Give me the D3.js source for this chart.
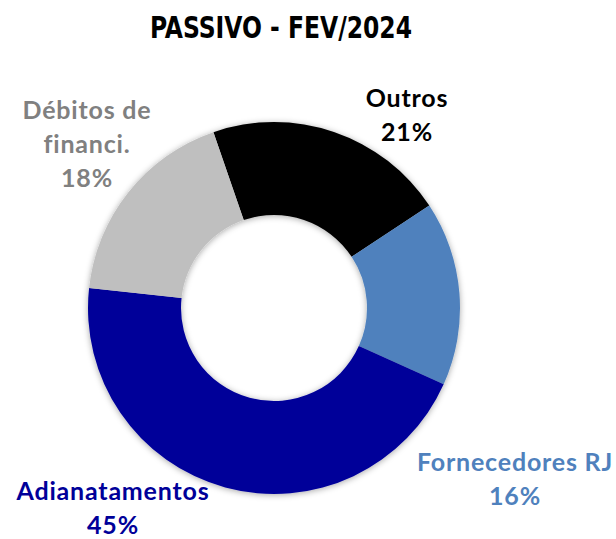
<!DOCTYPE html>
<html>
<head>
<meta charset="utf-8">
<script src="https://cdn.jsdelivr.net/npm/d3@7"></script>
<style>
  body { margin: 0; background: #fff; }
  svg { display: block; }
</style>
</head>
<body>
<svg width="616" height="539"></svg>
<script>
var title = "PASSIVO - FEV/2024"
var categories = ["Outros", "Fornecedores RJ", "Adianatamentos", "Débitos de financi."]
var values = [21, 16, 45, 18]
var colors = ["#000000", "#4f81bd", "#000099", "#bfbfbf"]
var labelColors = ["#000000", "#4f81bd", "#000099", "#808080"]
// label text lines (category split the way the chart wraps it)
var labelLines = [["Outros"], ["Fornecedores RJ"], ["Adianatamentos"], ["Débitos de", "financi."]]

var svg = d3.select("svg"),
	width = +svg.attr("width"),
	height = +svg.attr("height")

var cx = 274, cy = 308,
	outer = 186, inner = 93

// where each label block sits (center x, first baseline)
var labelAnchor = [[407, 107], [515, 471], [113, 500], [87, 119]]
var lineGap = 34

var defs = svg.append("defs")
var f = defs.append("filter").attr("id", "shadow")
	.attr("x", "-20%").attr("y", "-20%").attr("width", "140%").attr("height", "140%")
f.append("feDropShadow").attr("dx", 0).attr("dy", 1).attr("stdDeviation", 3)
	.attr("flood-color", "#000").attr("flood-opacity", 0.35)

svg.append("text")
	.attr("x", 281).attr("y", 38)
	.attr("text-anchor", "middle")
	.style("font-family", "'DejaVu Sans Condensed', 'DejaVu Sans', sans-serif")
	.style("font-stretch", "condensed")
	.style("font-weight", "bold")
	.style("font-size", "30px")
	.attr("textLength", 262).attr("lengthAdjust", "spacingAndGlyphs")
	.text(title)

var pie = d3.pie().sort(null).value(d => d)
	.startAngle(-19 * Math.PI / 180)
	.endAngle(-19 * Math.PI / 180 + 2 * Math.PI)

var arc = d3.arc().innerRadius(inner).outerRadius(outer)

var g = svg.append("g")
	.attr("transform", "translate(" + cx + "," + cy + ")")
	.attr("filter", "url(#shadow)")

g.selectAll("path").data(pie(values)).enter().append("path")
	.attr("d", arc)
	.attr("fill", (d, i) => colors[i])

var total = d3.sum(values)
var labels = svg.selectAll("g.lbl").data(categories).enter().append("g")
	.attr("class", "lbl")

labels.each(function(c, i) {
	var lines = labelLines[i].concat([Math.round(values[i] / total * 100) + "%"])
	var t = d3.select(this).append("text")
		.attr("text-anchor", "middle")
		.style("font-family", "Lato, 'Open Sans', sans-serif")
		.style("font-weight", "bold")
		.style("font-size", "25px")
		.style("letter-spacing", "0.8px")
		.attr("fill", labelColors[i])
	lines.forEach(function(l, j) {
		t.append("tspan")
			.attr("x", labelAnchor[i][0])
			.attr("y", labelAnchor[i][1] + j * lineGap)
			.text(l)
	})
})
</script>
</body>
</html>
